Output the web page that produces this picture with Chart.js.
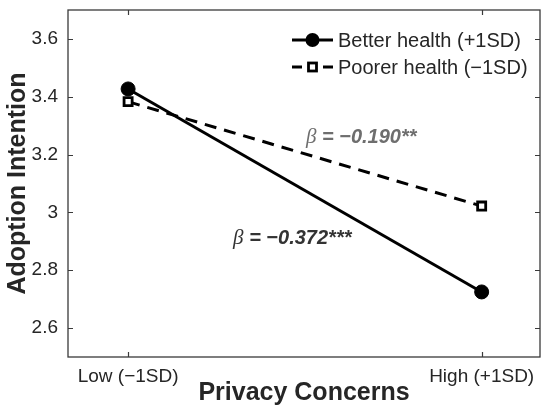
<!DOCTYPE html>
<html>
<head>
<meta charset="utf-8">
<script src="https://cdn.jsdelivr.net/npm/chart.js@4.4.0/dist/chart.umd.min.js"></script>
<style>
html,body{margin:0;padding:0;background:#fff;}
#wrap{width:550px;height:413px;position:relative;}
</style>
</head>
<body>
<div id="wrap"><canvas id="c" width="550" height="413"></canvas></div>
<script>
const categories = ['Low (\u22121SD)', 'High (+1SD)'];
const categoryPos = [0, 1];
const betterHealth = [3.427, 2.725];
const poorerHealth = [3.383, 3.022];
const yTicks = [2.6, 2.8, 3.0, 3.2, 3.4, 3.6];
const seriesNames = ['Better health (+1SD)', 'Poorer health (\u22121SD)'];
const betaLabels = ['\u03B2 = \u22120.190**', '\u03B2 = \u22120.372***'];

const FONT = '"Liberation Sans", Arial, Helvetica, sans-serif';
const SERIF = '"Liberation Serif", "Times New Roman", serif';
const TXT = '#262626';
const DASH = [12, 8];

function drawBeta(ctx, label, x, y, color) {
  const beta = label.charAt(0), rest = label.slice(1);
  ctx.fillStyle = color;
  ctx.font = 'italic 21px ' + SERIF;
  ctx.fillText(beta, x, y);
  const w = ctx.measureText(beta).width;
  ctx.font = 'italic bold 20px ' + FONT;
  ctx.fillText(rest, x + w, y);
}

const framePlugin = {
  id: 'frame',
  afterDraw(chart) {
    const {ctx, chartArea: a, scales} = chart;
    ctx.save();
    ctx.strokeStyle = '#3a3a3a';
    ctx.lineWidth = 1.3;
    ctx.strokeRect(a.left, a.top, a.right - a.left, a.bottom - a.top);
    const tl = 5;
    ctx.lineWidth = 1.2;
    ctx.beginPath();
    yTicks.forEach(v => {
      const y = Math.round(scales.y.getPixelForValue(v)) + 0.5;
      ctx.moveTo(a.left, y); ctx.lineTo(a.left + tl, y);
      ctx.moveTo(a.right, y); ctx.lineTo(a.right - tl, y);
    });
    categoryPos.forEach(v => {
      const x = Math.round(scales.x.getPixelForValue(v)) + 0.5;
      ctx.moveTo(x, a.bottom); ctx.lineTo(x, a.bottom - tl);
      ctx.moveTo(x, a.top); ctx.lineTo(x, a.top + tl);
    });
    ctx.stroke();

    // legend
    const lx = a.left + 224;
    [0, 1].forEach(i => {
      const y = a.top + 30 + i * 27;
      ctx.strokeStyle = '#000';
      ctx.lineWidth = 3;
      if (i === 0) {
        ctx.beginPath(); ctx.moveTo(lx, y); ctx.lineTo(lx + 41, y); ctx.stroke();
        ctx.fillStyle = '#000';
        ctx.beginPath(); ctx.arc(lx + 20.5, y, 7, 0, Math.PI * 2); ctx.fill();
      } else {
        ctx.beginPath();
        ctx.moveTo(lx, y); ctx.lineTo(lx + 10, y);
        ctx.moveTo(lx + 31, y); ctx.lineTo(lx + 41, y);
        ctx.stroke();
        ctx.fillStyle = '#fff';
        ctx.lineWidth = 2.8;
        ctx.fillRect(lx + 16.5, y - 4, 8, 8);
        ctx.strokeRect(lx + 16.5, y - 4, 8, 8);
      }
      ctx.fillStyle = TXT;
      ctx.font = '20px ' + FONT;
      ctx.textBaseline = 'middle';
      ctx.textAlign = 'left';
      ctx.fillText(seriesNames[i], lx + 46, y + 1);
    });

    // beta annotations
    ctx.textBaseline = 'middle';
    ctx.textAlign = 'left';
    drawBeta(ctx, betaLabels[0], scales.x.getPixelForValue(0.503), scales.y.getPixelForValue(3.258), '#6e6e6e');
    drawBeta(ctx, betaLabels[1], scales.x.getPixelForValue(0.297), scales.y.getPixelForValue(2.91), '#333333');
    ctx.restore();
  }
};

new Chart(document.getElementById('c'), {
  type: 'line',
  data: {
    datasets: [
      {
        label: seriesNames[0],
        data: categoryPos.map((x, i) => ({x, y: betterHealth[i]})),
        borderColor: '#000', backgroundColor: '#000', borderWidth: 3,
        pointStyle: 'circle', pointRadius: 7, pointBackgroundColor: '#000', pointBorderColor: '#000', pointBorderWidth: 1,
        order: 1
      },
      {
        label: seriesNames[1],
        data: categoryPos.map((x, i) => ({x, y: poorerHealth[i]})),
        borderColor: '#000', backgroundColor: '#fff', borderWidth: 3, borderDash: DASH,
        pointStyle: 'rect', pointRadius: 5.7, pointBackgroundColor: '#fff', pointBorderColor: '#000', pointBorderWidth: 2.8,
        order: 2
      }
    ]
  },
  options: {
    responsive: false,
    animation: false,
    devicePixelRatio: 1,
    layout: {padding: {left: 0, right: 10, top: 10, bottom: 0}},
    plugins: {legend: {display: false}, tooltip: {enabled: false}},
    scales: {
      x: {
        type: 'linear', min: -0.17, max: 1.165,
        afterBuildTicks(s) { s.ticks = categoryPos.map(v => ({value: v})); },
        afterFit(s) { s.height = 56; s.paddingLeft = 0; s.paddingRight = 0; },
        grid: {display: false, drawTicks: false}, border: {display: false},
        ticks: {
          callback: v => categories[categoryPos.indexOf(v)] || '',
          color: TXT, font: {family: FONT, size: 19}, padding: 8, maxRotation: 0
        },
        title: {display: true, text: 'Privacy Concerns', color: TXT,
          font: {family: FONT, size: 25, weight: 'bold'}, padding: {top: 0, bottom: 5}}
      },
      y: {
        min: 2.5, max: 3.7,
        afterBuildTicks(s) { s.ticks = yTicks.map(v => ({value: v})); },
        afterFit(s) { s.width = 68; s.paddingTop = 0; s.paddingBottom = 0; },
        grid: {display: false, drawTicks: false}, border: {display: false},
        ticks: {
          callback: v => String(Math.round(v * 10) / 10),
          color: TXT, font: {family: FONT, size: 19}, padding: 10
        },
        title: {display: true, text: 'Adoption Intention', color: TXT,
          font: {family: FONT, size: 25, weight: 'bold'}, padding: {top: 3, bottom: 0}}
      }
    }
  },
  plugins: [framePlugin]
});
</script>
</body>
</html>
